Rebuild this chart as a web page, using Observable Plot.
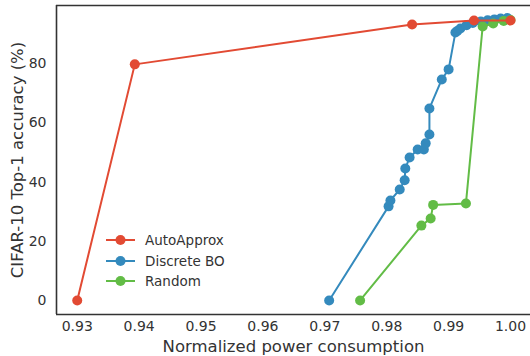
<!DOCTYPE html>
<html><head><meta charset="utf-8">
<script src="https://cdn.jsdelivr.net/npm/d3@7"></script>
<script src="https://cdn.jsdelivr.net/npm/@observablehq/plot@0.6"></script>
<style>
body{margin:0;background:#fff;font-family:"DejaVu Sans",sans-serif;}
#wrap{position:relative;width:530px;height:356px;overflow:hidden;}
#legend{position:absolute;left:106px;top:230px;font-size:13.5px;color:#333;}
#legend .row{display:flex;align-items:center;height:20.5px;}
#legend svg{margin-right:10px;}
</style></head><body><div id="wrap"><div id="legend"></div></div>
<script>
// Series names and colours
const seriesNames = ["AutoApprox", "Discrete BO", "Random"];
const seriesColors = ["#E24A33", "#348ABD", "#62BC46"];

// AutoApprox
const autoX = [0.9300, 0.9393, 0.9841, 0.9941, 1.0000];
const autoY = [0, 79.8, 93.3, 94.6, 94.6];

// Discrete BO
const boX = [0.9707, 0.9803, 0.9806, 0.9821, 0.9829, 0.9830, 0.9837, 0.9850, 0.9860, 0.9863, 0.9869, 0.9869, 0.9889, 0.9900, 0.9911, 0.9914, 0.9919, 0.9929, 0.9939, 0.9952, 0.9963, 0.9974, 0.9984, 0.9995];
const boY = [0, 31.8, 33.8, 37.5, 40.6, 44.6, 48.3, 51.0, 51.0, 53.1, 56.1, 64.9, 74.7, 78.1, 90.6, 91.1, 91.9, 93.0, 93.8, 94.3, 94.7, 95.0, 95.3, 95.5];

// Random
const rndX = [0.9757, 0.9856, 0.9871, 0.9875, 0.9928, 0.9955, 0.9972, 0.9989, 1.0000];
const rndY = [0, 25.3, 27.7, 32.3, 32.8, 92.6, 93.6, 94.5, 94.8];

// Axis ticks
const xTicks = [0.93, 0.94, 0.95, 0.96, 0.97, 0.98, 0.99, 1.00];
const yTicks = [0, 20, 40, 60, 80];
const xLabel = "Normalized power consumption";
const yLabel = "CIFAR-10 Top-1 accuracy (%)";

const xDomain = [0.92665, 1.00323];
const yDomain = [-4.75, 99.7];

const toRows = (xs, ys, s) => xs.map((x, i) => ({x, y: ys[i], s}));
const auto = toRows(autoX, autoY, seriesNames[0]);
const bo = toRows(boX, boY, seriesNames[1]);
const rnd = toRows(rndX, rndY, seriesNames[2]);

const textColor = "#333";
const spine = "#333";

const chart = Plot.plot({
  width: 530, height: 356,
  marginLeft: 56, marginRight: 0, marginTop: 5, marginBottom: 42,
  style: {fontFamily: "DejaVu Sans, sans-serif", fontSize: "14px", color: textColor, background: "#fff"},
  x: {domain: xDomain},
  y: {domain: yDomain},
  marks: [
    Plot.ruleX([xDomain[0]], {stroke: spine, strokeWidth: 1.6}),
    Plot.ruleY([yDomain[0], yDomain[1]], {stroke: spine, strokeWidth: 1.6}),
    Plot.line(bo, {x: "x", y: "y", stroke: seriesColors[1], strokeWidth: 2}),
    Plot.dot(bo, {x: "x", y: "y", fill: seriesColors[1], r: 5}),
    Plot.line(rnd, {x: "x", y: "y", stroke: seriesColors[2], strokeWidth: 2}),
    Plot.dot(rnd, {x: "x", y: "y", fill: seriesColors[2], r: 5}),
    Plot.line(auto, {x: "x", y: "y", stroke: seriesColors[0], strokeWidth: 2}),
    Plot.dot(auto, {x: "x", y: "y", fill: seriesColors[0], r: 5}),
    Plot.axisX({ticks: xTicks, tickFormat: d3.format(".2f"), tickSize: 0, tickPadding: 7, label: null, fill: textColor, fontSize: 14}),
    Plot.axisY({ticks: yTicks, tickSize: 0, tickPadding: 10, label: null, fill: textColor, fontSize: 14}),
    Plot.text([xLabel], {frameAnchor: "bottom", dy: 32, lineAnchor: "middle", fontSize: 16.5, fill: textColor}),
    Plot.text([yLabel], {frameAnchor: "left", dx: -38.5, rotate: -90, textAnchor: "middle", fontSize: 16.5, fill: textColor})
  ]
});
document.getElementById("wrap").prepend(chart);

const legend = document.getElementById("legend");
seriesNames.forEach((name, i) => {
  const row = document.createElement("div");
  row.className = "row";
  row.innerHTML = `<svg width="29" height="12"><line x1="0" x2="29" y1="6" y2="6" stroke="${seriesColors[i]}" stroke-width="2"/><circle cx="14.5" cy="6" r="5" fill="${seriesColors[i]}"/></svg><span>${name}</span>`;
  legend.appendChild(row);
});
</script>
</body></html>
